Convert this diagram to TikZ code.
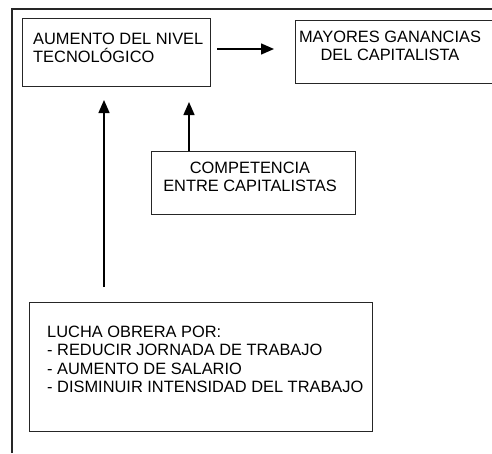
\documentclass[tikz,border=0pt]{standalone}
\usepackage{fontspec}
\setmainfont{Liberation Sans}
\usetikzlibrary{arrows.meta,calc}
\begin{document}
\begin{tikzpicture}[x=1pt,y=-1pt,
  box/.style={draw=black!85,line width=1.1pt,rectangle,anchor=north west,inner sep=0pt},
  txt/.style={font=\fontsize{16.4}{18.5}\selectfont,inner sep=0pt},
  arr/.style={line width=1.4pt,-{Triangle[length=13pt,width=11pt]}}]
\useasboundingbox (0,0) rectangle (492,453);
\clip (0,0) rectangle (492,453);
\fill[white] (0,0) rectangle (492,453);
% outer frame
\draw[line width=1.1pt,black!85] (12,453) -- (12,9) -- (495,9);
% boxes
\node[box,minimum width=188pt,minimum height=68pt] (tec) at (22,18) {};
\node[box,minimum width=210pt,minimum height=63pt] (gan) at (295,20) {};
\node[box,minimum width=204pt,minimum height=63pt] (comp) at (151,151) {};
\node[box,minimum width=343pt,minimum height=129pt] (lucha) at (29,302) {};
% texts
\node[txt,anchor=west,align=left] (ttec) at (33,48) {AUMENTO DEL NIVEL\\TECNOLÓGICO};
\node[txt,align=center] (tgan) at (390,46) {MAYORES GANANCIAS\\DEL CAPITALISTA};
\node[txt,align=center] (tcomp) at (250,177) {COMPETENCIA\\ENTRE CAPITALISTAS};
\node[txt,anchor=west,align=left] (tlucha) at (47,359.5) {LUCHA OBRERA POR:\\- REDUCIR JORNADA DE TRABAJO\\- AUMENTO DE SALARIO\\- DISMINUIR INTENSIDAD DEL TRABAJO};
% arrows
\coordinate (h1) at (217,49);
\coordinate (h2) at (274,49);
\draw[arr] (h1) -- (h2);
\coordinate (v1a) at (104,287);
\coordinate (v1b) at (104,100);
\draw[arr] (v1a) -- (v1b);
\coordinate (v2b) at (189,102);
\draw[arr] (comp.north west -| v2b) -- (v2b);
\end{tikzpicture}
\end{document}
